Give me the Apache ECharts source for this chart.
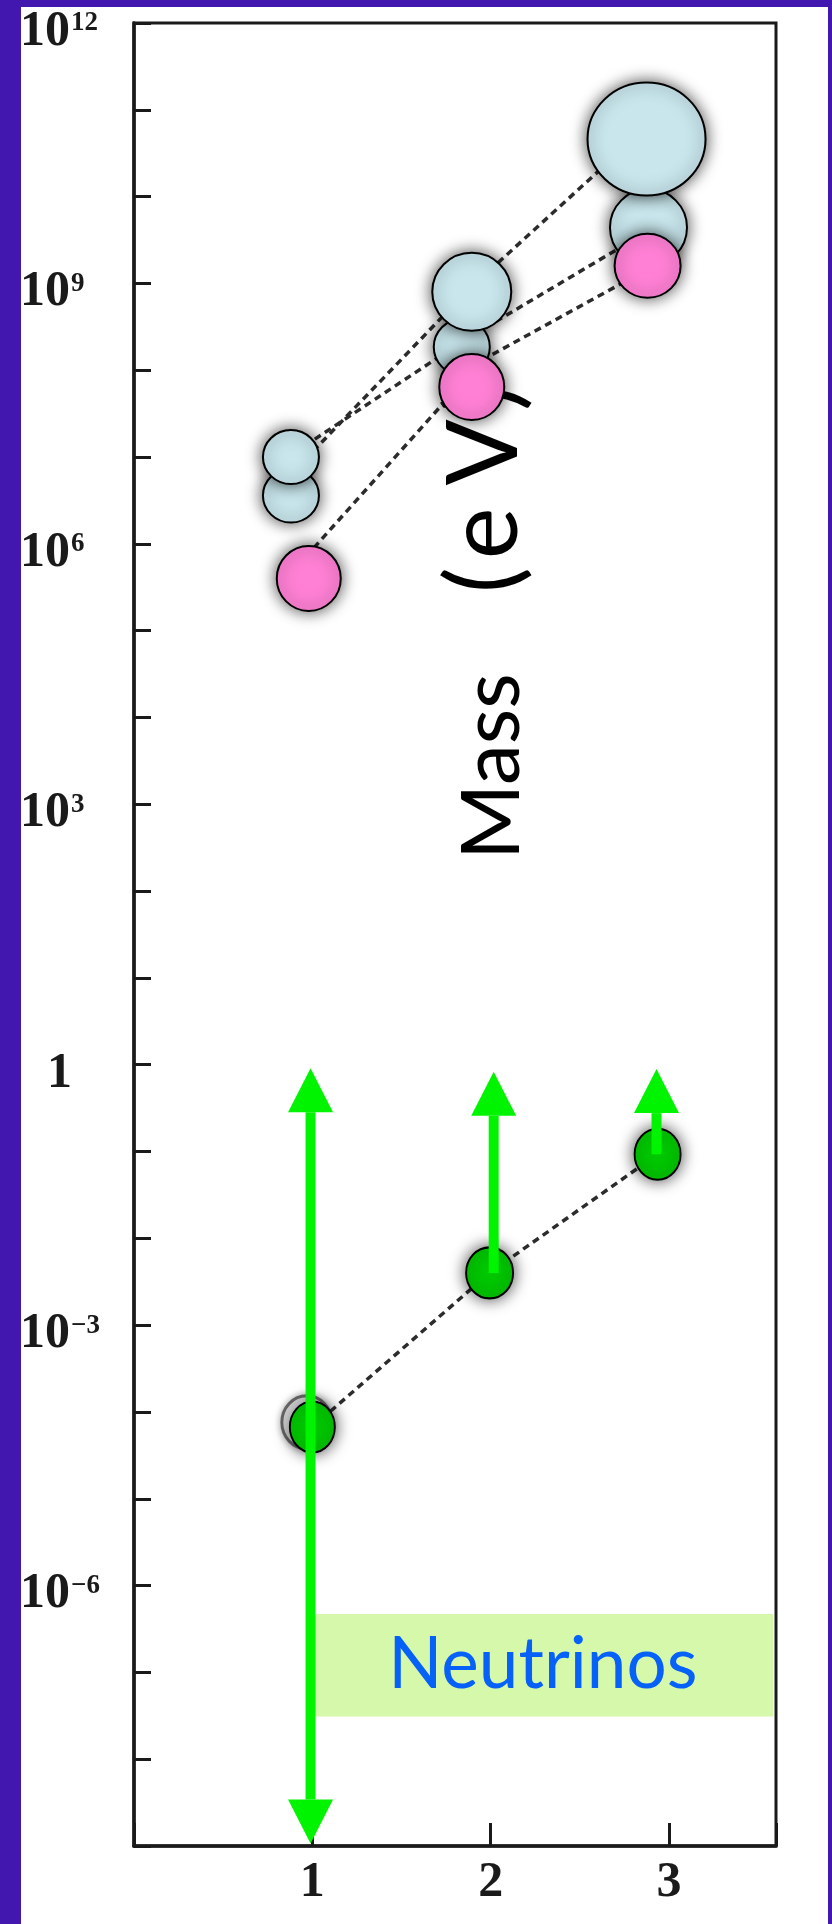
<!DOCTYPE html>
<html>
<head>
<meta charset="utf-8">
<script src="https://cdn.jsdelivr.net/npm/echarts@6/dist/echarts.min.js"></script>
<style>
  html, body { margin: 0; padding: 0; width: 832px; height: 1924px; overflow: hidden; background: #4117b0; }
  #chart { position: absolute; left: 21px; top: 7px; width: 807px; height: 1917px; background: #ffffff; }
</style>
</head>
<body>
<div id="chart"></div>
<script>
// ---- data (masses in eV, horizontal position = generation) ----
const generations = [1, 2, 3];
const yLabelExponents = [-6, -3, 0, 3, 6, 9, 12];

const quarkUpperX = [0.880, 1.894, 2.874];          // d, c, t
const quarkUpperMass = [1.0e7, 8.0e8, 4.6e10];
const quarkLowerX = [0.880, 1.838, 2.885];          // u, s, b
const quarkLowerMass = [3.6e6, 1.85e8, 4.4e9];
const leptonX = [0.980, 1.894, 2.880];              // e, mu, tau
const leptonMass = [4.0e5, 6.4e7, 1.6e9];
const neutrinoX = [1.0, 1.994, 2.936];
const neutrinoMass = [6.7e-5, 4.0e-3, 0.093];
const neutrinoGhostX = [0.969];
const neutrinoGhostMass = [7.6e-5];

// allowed ranges for the neutrino masses
const arrowX = [0.99, 2.017, 2.93];
const arrowTop = [0.91, 0.83, 0.89];
const arrowBottom = 1.07e-9;

// dashed trend lines through each family
const trendAX = [0.958, 1.871, 2.695];
const trendAMass = [9.3e6, 8.3e8, 2.9e10];
const trendBX = [0.958, 1.849, 2.779];
const trendBMass = [1.35e7, 2.2e8, 3.0e9];
const trendCX = [0.964, 1.950, 2.835];
const trendCMass = [7.1e5, 1.3e8, 1.3e9];

// shaded band holding the "Neutrinos" caption
const bandX = [1.0, 3.585];
const bandMass = [4.7e-7, 3.1e-8];

// ---- styling ----
const sizeUpper = [[56, 54], [79, 78], [118, 113]];
const sizeLower = [[56, 54], [56, 56], [77, 77]];
const sizeLepton = [[64, 65], [65, 66], [66, 64]];
const sizeNeutrino = [[45, 51], [47, 51], [46, 51]];

const pair = (xs, ys) => xs.map((x, i) => [x, ys[i]]);
const bubbleStyle = (fill) => ({
  color: fill, borderColor: '#000', borderWidth: 2,
  shadowBlur: 16, shadowColor: 'rgba(0,0,0,0.7)', opacity: 1
});
const dashed = { type: [7, 5], width: 3.5, color: '#2c2c2c' };
const serif = '"Liberation Serif", "Times New Roman", serif';
const INK = '#1a1a1a';
const GREEN = '#00f400';

const trendSeries = (xs, ys, extra) => Object.assign({
  type: 'line', data: pair(xs, ys), symbol: 'none', z: 2,
  lineStyle: dashed, silent: true, animation: false
}, extra || {});

const arrowData = [
  [arrowX[0], neutrinoMass[0], arrowTop[0]],
  [arrowX[0], neutrinoMass[0], arrowBottom],
  [arrowX[1], neutrinoMass[1], arrowTop[1]],
  [arrowX[2], neutrinoMass[2], arrowTop[2]]
];

const chart = echarts.init(document.getElementById('chart'), null, { renderer: 'canvas' });

// tick label pieces: base "10" and a raised exponent
const yRich = {
  b: { fontFamily: serif, fontSize: 50, fontWeight: 'bold', lineHeight: 52, verticalAlign: 'bottom', color: INK },
  s: { fontFamily: serif, fontSize: 27, fontWeight: 'bold', lineHeight: 27, padding: [0, 0, 20, 1], verticalAlign: 'bottom', color: INK },
  one: { fontFamily: serif, fontSize: 50, fontWeight: 'bold', lineHeight: 52, padding: [0, 0, 0, 27], verticalAlign: 'bottom', color: INK }
};

chart.setOption({
  animation: false,
  grid: {
    left: 113, right: 52, top: 16, bottom: 78,
    show: true, borderColor: INK, borderWidth: 3, backgroundColor: 'transparent',
    containLabel: false, outerBoundsMode: 'none'
  },
  xAxis: {
    type: 'value', min: 0, max: 3.6, interval: 1,
    axisLine: { show: true, lineStyle: { color: INK, width: 3.5 } },
    axisTick: { show: true, inside: true, length: 23, lineStyle: { color: INK, width: 3 } },
    splitLine: { show: false },
    axisLabel: {
      margin: 12, fontFamily: serif, fontSize: 50, fontWeight: 'bold', color: INK,
      formatter: (v) => generations.includes(v) ? String(v) : ''
    }
  },
  yAxis: {
    type: 'log', logBase: 10, min: 1e-9, max: 1e12, interval: 1,
    axisLine: { show: true, lineStyle: { color: INK, width: 3.5 } },
    axisTick: { show: true, inside: true, length: 17, lineStyle: { color: INK, width: 3 } },
    splitLine: { show: false },
    minorTick: { show: false },
    axisLabel: {
      align: 'left', margin: 114, color: INK, fontFamily: serif, fontSize: 50,
      padding: [16, 0, 0, 0],
      formatter: (v) => {
        const e = Math.round(Math.log10(v));
        if (!yLabelExponents.includes(e)) return '';
        if (e === 0) return '{one|1}';
        return '{b|10}{s|' + (e < 0 ? '\u2212' + (-e) : e) + '}';
      },
      rich: yRich
    }
  },
  graphic: [{
    type: 'text', z: 1, zlevel: 0,
    x: 463, y: 853, rotation: Math.PI / 2,
    style: {
      text: '{m|Mass}{p|(}{e|e}{v|V}{q|)}',
      textAlign: 'left', textVerticalAlign: 'middle',
      rich: {
        m: { fontFamily: 'Lato', fontSize: 82, lineHeight: 100, verticalAlign: 'bottom', fill: '#000' },
        p: { fontFamily: 'Lato', fontSize: 98, lineHeight: 100, verticalAlign: 'bottom', padding: [0, 8, 0, 80], fill: '#000' },
        e: { fontFamily: 'Lato', fontSize: 98, lineHeight: 100, verticalAlign: 'bottom', padding: [0, 22, 0, 0], fill: '#000' },
        v: { fontFamily: 'Lato', fontSize: 98, lineHeight: 100, verticalAlign: 'bottom', padding: [0, 8, 0, 0], fill: '#000' },
        q: { fontFamily: 'Lato', fontSize: 98, lineHeight: 100, verticalAlign: 'bottom', fill: '#000' }
      }
    }
  }],
  series: [
    trendSeries(trendAX, trendAMass, {
      markArea: {
        silent: true,
        itemStyle: { color: '#d6f8aa', opacity: 1 },
        label: {
          show: true, position: 'inside', formatter: 'Neutrinos',
          fontFamily: 'Lato', fontSize: 71, color: '#0561f7'
        },
        data: [[{ coord: [bandX[0], bandMass[0]] }, { coord: [bandX[1], bandMass[1]] }]]
      }
    }),
    trendSeries(trendBX, trendBMass),
    trendSeries(trendCX, trendCMass),
    {
      type: 'scatter', name: 'lower quarks', z: 3, data: pair(quarkLowerX, quarkLowerMass),
      symbol: 'circle', symbolSize: (v, p) => sizeLower[p.dataIndex],
      itemStyle: bubbleStyle('#c8e6ec'), silent: true
    },
    {
      type: 'scatter', name: 'upper quarks', z: 4, data: pair(quarkUpperX, quarkUpperMass),
      symbol: 'circle', symbolSize: (v, p) => sizeUpper[p.dataIndex],
      itemStyle: bubbleStyle('#c8e6ec'), silent: true
    },
    {
      type: 'scatter', name: 'charged leptons', z: 5, data: pair(leptonX, leptonMass),
      symbol: 'circle', symbolSize: (v, p) => sizeLepton[p.dataIndex],
      itemStyle: bubbleStyle('#ff80d5'), silent: true
    },
    {
      type: 'scatter', name: 'neutrino outline', z: 5, data: pair(neutrinoGhostX, neutrinoGhostMass),
      symbol: 'circle', symbolSize: [50, 53],
      itemStyle: { color: 'rgba(0,0,0,0)', borderColor: 'rgba(30,30,30,0.75)', borderWidth: 3,
                   shadowBlur: 6, shadowColor: 'rgba(0,0,0,0.6)' },
      silent: true
    },
    {
      type: 'line', name: 'neutrinos', z: 6, data: pair(neutrinoX, neutrinoMass),
      symbol: 'circle', showSymbol: true, symbolSize: (v, p) => sizeNeutrino[p.dataIndex],
      lineStyle: dashed, itemStyle: bubbleStyle('#00c800'), silent: true
    },
    {
      type: 'custom', name: 'neutrino ranges', z: 10, data: arrowData, clip: false, silent: true,
      encode: { x: 0, y: [1, 2] },
      renderItem: (params, api) => {
        const x = api.value(0);
        const a = api.coord([x, api.value(1)]);
        const b = api.coord([x, api.value(2)]);
        const dir = b[1] < a[1] ? -1 : 1;
        const headLen = 44, headHalf = 22.5, w = 10;
        const baseY = b[1] - dir * headLen;
        return {
          type: 'group',
          children: [
            { type: 'rect', shape: { x: b[0] - w / 2, y: Math.min(a[1], baseY), width: w, height: Math.abs(baseY - a[1]) },
              style: { fill: GREEN } },
            { type: 'polygon', shape: { points: [[b[0], b[1]], [b[0] - headHalf, baseY], [b[0] + headHalf, baseY]] },
              style: { fill: GREEN } }
          ]
        };
      }
    }
  ]
});
</script>
</body>
</html>
